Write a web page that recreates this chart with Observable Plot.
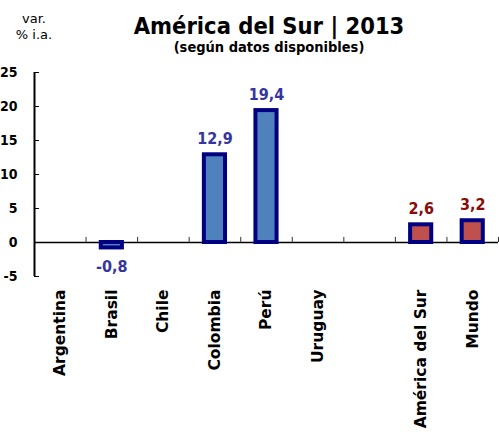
<!DOCTYPE html>
<html><head><meta charset="utf-8">
<script src="https://cdn.jsdelivr.net/npm/d3@7"></script>
<script src="https://cdn.jsdelivr.net/npm/@observablehq/plot@0.6"></script>
<style>
body{margin:0;background:#fff;font-family:"DejaVu Sans",sans-serif;}
#wrap{position:relative;width:499px;height:433px;overflow:hidden;}
.t{position:absolute;white-space:nowrap;transform:translateX(-50%);line-height:1;color:#000;}
.c{font-family:"DejaVu Sans Condensed","DejaVu Sans",sans-serif;font-weight:bold;}
</style></head><body>
<div id="wrap">
<div id="chart"></div>
<div class="t c" style="left:269px;top:14.7px;font-size:23.5px">América del Sur | 2013</div>
<div class="t c" style="left:269px;top:39.7px;font-size:14.5px">(según datos disponibles)</div>
<div class="t" style="left:34px;top:12px;font-size:13px">var.</div>
<div class="t" style="left:34px;top:28px;font-size:13px">% i.a.</div>
</div>
<script>
const categories = ["Argentina","Brasil","Chile","Colombia","Perú","Uruguay","","América del Sur","Mundo"];
const values = [null,-0.8,null,12.9,19.4,null,null,2.6,3.2];
const groups = ["país","país","país","país","país","país","","región","región"];
const yTicks = [-5,0,5,10,15,20,25];

const fillColor = {"país":"#4F81BD","región":"#C0504D"};
const labelColor = {"país":"#3535A0","región":"#8B0A0A"};
const fmt = v => v.toFixed(1).replace(".", ",");

const data = categories.map((c,i)=>({i, c, v: values[i], g: groups[i]})).filter(d => d.v != null);
const bounds = d3.range(1, categories.length + 1).map(k => k - 0.5);
const half = 0.205;
const cond = "DejaVu Sans Condensed, DejaVu Sans, sans-serif";

const chart = Plot.plot({
  width: 499,
  height: 433,
  marginLeft: 34,
  marginRight: 1,
  marginTop: 72,
  marginBottom: 157,
  style: {fontFamily: "DejaVu Sans, sans-serif", background: "#fff", overflow: "visible"},
  x: {domain: [-0.5, categories.length - 0.5], axis: null},
  y: {domain: [-5, 25], axis: null},
  marks: [
    Plot.ruleY([0], {stroke: "#000", strokeWidth: 1.3}),
    Plot.ruleX(bounds, {y1: 0, y2: 0.75, stroke: "#333", strokeWidth: 1}),
    Plot.rectY(data, {x1: d => d.i - half, x2: d => d.i + half, y1: 0, y2: "v",
      fill: d => fillColor[d.g], stroke: "#000080", strokeWidth: 4}),
    Plot.text(data.filter(d => d.v >= 0), {x: "i", y: "v", text: d => fmt(d.v), fontFamily: cond,
      fill: d => labelColor[d.g], fontWeight: "bold", fontSize: 16, lineAnchor: "bottom", dy: -11}),
    Plot.text(data.filter(d => d.v < 0), {x: "i", y: "v", text: d => fmt(d.v), fontFamily: cond,
      fill: d => labelColor[d.g], fontWeight: "bold", fontSize: 16, lineAnchor: "top", dy: 13}),
    Plot.ruleX([-0.5], {y1: -5, y2: 25, stroke: "#000", strokeWidth: 2}),
    Plot.ruleY(yTicks, {x1: -0.5, x2: -0.5 + 5/51.5, stroke: "#000", strokeWidth: 1}),
    Plot.axisY({ticks: yTicks, label: null, tickSize: 0, tickPadding: 17, fontWeight: "bold", fontSize: 14,
      fontFamily: cond, fill: "#000", tickFormat: d => String(d)}),
    Plot.axisX({ticks: d3.range(categories.length), label: null, tickFormat: i => categories[i], tickRotate: -90,
      tickSize: 0, tickPadding: 13, fontWeight: "bold", fontSize: 15.5, fill: "#000"})
  ]
});
document.getElementById("chart").append(chart);
</script>
</body></html>
